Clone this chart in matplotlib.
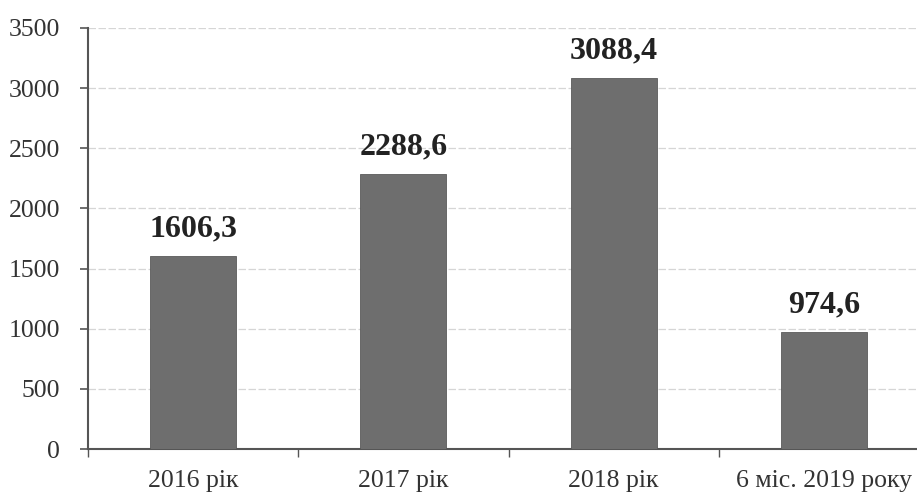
import matplotlib
matplotlib.use("Agg")
import matplotlib.pyplot as plt
from matplotlib.ticker import FixedLocator

categories = ["2016 рік", "2017 рік", "2018 рік", "6 міс. 2019 року"]
values = [1606.3, 2288.6, 3088.4, 974.6]
value_labels = ["1606,3", "2288,6", "3088,4", "974,6"]
y_ticks = [0, 500, 1000, 1500, 2000, 2500, 3000, 3500]

plt.rcParams['font.family'] = ['Liberation Serif', 'DejaVu Serif']

fig = plt.figure(figsize=(9.17, 4.98), dpi=100)
ax = fig.add_axes([88/917, 49/498, 841/917, 421/498])

x = list(range(len(categories)))
bars = ax.bar(x, values, width=0.41, color="#6e6e6e", edgecolor="#5a5a5a", linewidth=0.6, zorder=3)

for xi, v, lab in zip(x, values, value_labels):
    ax.text(xi, v + 100, lab, ha="center", va="bottom", fontsize=23, fontweight="bold", color="#222222", zorder=4)

ax.set_xlim(-0.5, len(categories) - 0.5)
ax.set_ylim(0, 3500)
ax.set_yticks(y_ticks)
ax.set_yticklabels([str(t) for t in y_ticks], fontsize=18.5, color="#333333")
ax.set_xticks(x)
ax.set_xticklabels(categories, fontsize=18.5, color="#333333")
ax.xaxis.set_minor_locator(FixedLocator([-0.5, 0.5, 1.5, 2.5]))
ax.tick_params(axis="x", which="major", length=0, pad=15)
ax.tick_params(axis="x", which="minor", length=6, width=1.0, color="#555555")
ax.tick_params(axis="y", which="major", length=6, width=1.2, color="#555555", pad=14)

ax.yaxis.grid(True, color="#d6d6d6", linewidth=0.9, linestyle=(0, (6, 2)), zorder=0)
ax.set_axisbelow(True)

for s in ["top", "right"]:
    ax.spines[s].set_visible(False)
ax.spines["left"].set_color("#555555")
ax.spines["left"].set_linewidth(1.5)
ax.spines["bottom"].set_color("#555555")
ax.spines["bottom"].set_linewidth(1.5)

fig.savefig("out.png", dpi=100)
